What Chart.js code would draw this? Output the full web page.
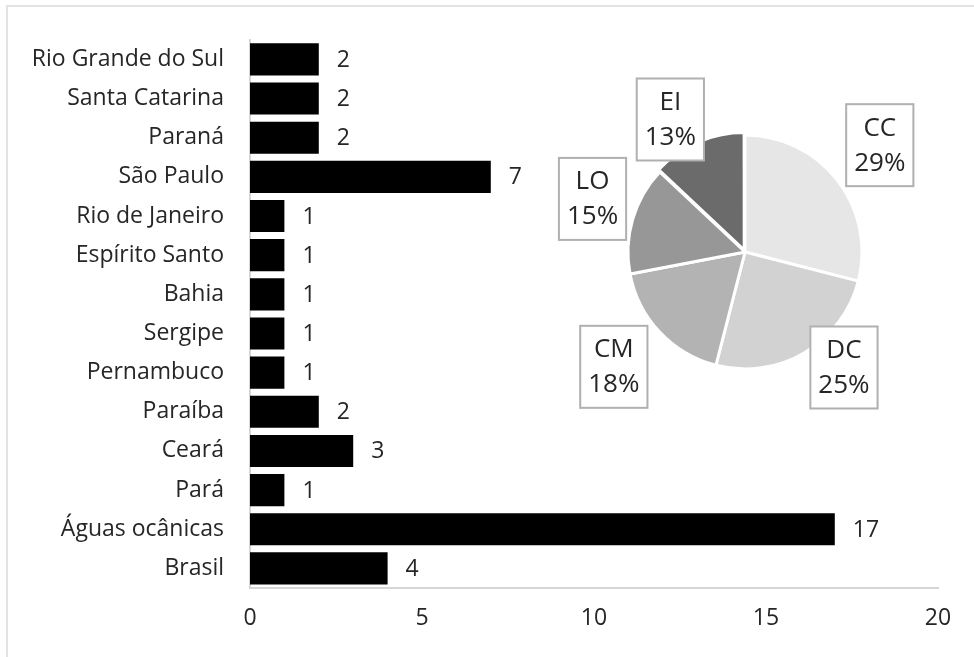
<!DOCTYPE html>
<html><head><meta charset="utf-8">
<script src="https://cdn.jsdelivr.net/npm/chart.js@4"></script>
<style>
html,body{margin:0;padding:0;background:#fff;}
#wrap{position:relative;width:974px;height:657px;overflow:hidden;background:#fff;}
#frame{position:absolute;left:6px;top:5px;right:-4px;bottom:-4px;border-left:2px solid #e3e3e3;border-top:2px solid #e3e3e3;}
#barBox{position:absolute;left:0;top:0;width:974px;height:657px;}
#pieBox{position:absolute;left:545px;top:52px;width:400px;height:400px;}
canvas{display:block;}
</style></head>
<body>
<div id="wrap"><div id="frame"></div>
<div id="barBox"><canvas id="bar" width="974" height="657"></canvas></div>
<div id="pieBox"><canvas id="pie" width="400" height="400"></canvas></div></div>
<script>
const regions = ['Rio Grande do Sul','Santa Catarina','Paraná','São Paulo','Rio de Janeiro','Espírito Santo','Bahia','Sergipe','Pernambuco','Paraíba','Ceará','Pará','Águas ocânicas','Brasil'];
const counts = [2,2,2,7,1,1,1,1,1,2,3,1,17,4];
const xTicks = [0,5,10,15,20];
const pieLabels = ['CC','DC','CM','LO','EI'];
const pieValues = [29,25,18,15,13];

// label placement (layout only): [distance as multiple of radius, angle shift in degrees]
const pieLabelPlacement = [[1.47, -0.6], [1.30, -10], [1.49, 2], [1.38, 3], [1.30, -6]];

const FONT = 'Open Sans';
const TXT = '#262626';

const barValueLabels = {
  id: 'barValueLabels',
  afterDatasetsDraw(chart) {
    const ctx = chart.ctx;
    const meta = chart.getDatasetMeta(0);
    ctx.save();
    ctx.font = '23px "' + FONT + '"';
    ctx.fillStyle = TXT;
    ctx.textAlign = 'left';
    ctx.textBaseline = 'middle';
    meta.data.forEach((el, i) => {
      ctx.fillText(String(counts[i]), el.x + 18, el.y + 1);
    });
    ctx.restore();
  }
};

new Chart(document.getElementById('bar'), {
  type: 'bar',
  data: {
    labels: regions,
    datasets: [{
      data: counts,
      backgroundColor: '#000',
      borderWidth: 0,
      categoryPercentage: 1,
      barPercentage: 0.82
    }]
  },
  options: {
    responsive: false,
    animation: false,
    indexAxis: 'y',
    layout: { padding: { left: 0, top: 39, right: 36, bottom: 0 } },
    plugins: { legend: { display: false }, tooltip: { enabled: false } },
    scales: {
      x: {
        min: 0, max: 20,
        afterBuildTicks: s => { s.ticks = xTicks.map(v => ({ value: v })); },
        afterFit: s => { s.height = 657 - 588; },
        grid: { display: false, drawTicks: false },
        border: { display: true, color: '#d6d6d6', width: 2 },
        ticks: { color: TXT, font: { family: FONT, size: 23 }, padding: 17, maxRotation: 0 }
      },
      y: {
        afterFit: s => { s.width = 250; },
        grid: { display: false, drawTicks: false },
        border: { display: true, color: '#d6d6d6', width: 2 },
        ticks: { color: TXT, font: { family: FONT, size: 23 }, padding: 26, autoSkip: false }
      }
    }
  },
  plugins: [barValueLabels]
});

const pieBoxLabels = {
  id: 'pieBoxLabels',
  afterDatasetsDraw(chart) {
    const ctx = chart.ctx;
    const meta = chart.getDatasetMeta(0);
    const total = pieValues.reduce((a, b) => a + b, 0);
    ctx.save();
    ctx.font = '26px "' + FONT + '"';
    ctx.textAlign = 'center';
    ctx.textBaseline = 'middle';
    meta.data.forEach((arc, i) => {
      const p = arc.getProps(['x', 'y', 'startAngle', 'endAngle', 'outerRadius'], true);
      const [k, shift] = pieLabelPlacement[i];
      const mid = (p.startAngle + p.endAngle) / 2 + shift * Math.PI / 180;
      const d = p.outerRadius * k;
      const cx = p.x + Math.cos(mid) * d;
      const cy = p.y + Math.sin(mid) * d;
      const l1 = pieLabels[i];
      const l2 = Math.round(pieValues[i] / total * 100) + '%';
      const w = Math.max(ctx.measureText(l1).width, ctx.measureText(l2).width) + 16;
      const h = 82;
      ctx.fillStyle = '#fff';
      ctx.fillRect(cx - w / 2, cy - h / 2, w, h);
      ctx.strokeStyle = '#b0b0b0';
      ctx.lineWidth = 2;
      ctx.strokeRect(cx - w / 2, cy - h / 2, w, h);
      ctx.fillStyle = TXT;
      ctx.fillText(l1, cx, cy - 17);
      ctx.fillText(l2, cx, cy + 18);
    });
    ctx.restore();
  }
};

new Chart(document.getElementById('pie'), {
  type: 'pie',
  data: {
    labels: pieLabels,
    datasets: [{
      data: pieValues,
      backgroundColor: ['#e6e6e6', '#d2d2d2', '#b3b3b3', '#979797', '#6b6b6b'],
      borderColor: '#ffffff',
      borderWidth: 3,
      offset: [0, 0, 0, 0, 8]
    }]
  },
  options: {
    responsive: false,
    animation: false,
    radius: 117,
    layout: { padding: 0 },
    plugins: { legend: { display: false }, tooltip: { enabled: false } }
  },
  plugins: [pieBoxLabels]
});
</script>
</body></html>
